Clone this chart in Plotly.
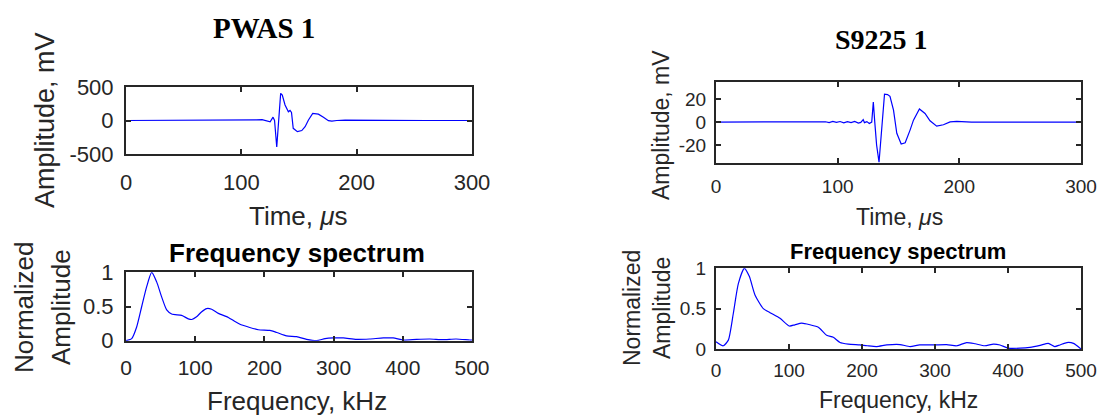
import plotly.graph_objects as go

W, H = 1102, 417

# ---------------- data ----------------
pwas_t = [0, 50, 100, 113, 118, 122, 125, 127.5, 128.8, 130.7, 132.5, 134.1, 135.5, 137.9,
          140.8, 142.2, 143.5, 145, 148.6, 152.4, 155.3, 158.2, 161.9, 166.8, 171.2, 175.5,
          178.5, 182.8, 190, 220, 260, 300]
pwas_a = [0, 0, 0, 10, 12, 0, -20, 50, 0, -395, 100, 405, 380, 231,
          131, 150, 120, -117, -167, -150, -92, 7, 107, 95, 48, -3,
          -10, 0, 5, 0, 0, 0]

s9225_t = [0, 60, 85, 90, 93, 96, 99, 102, 105, 108, 111, 114, 117, 119, 121, 122, 124, 126,
           128, 129.3, 130.5, 132, 134, 136, 138.5, 141, 143, 145.9, 148.6, 152.2, 155.5,
           159.5, 162.3, 167.2, 171.8, 175.9, 181.4, 186.9, 192.4, 197.9, 210, 250, 300]
s9225_a = [0, 0, 0, 0.3, -0.5, 0.6, -0.3, 0.5, -0.6, 0.4, -0.4, 0.6, -0.8, -0.3, 2.2, -0.5, 0.4, -1.2,
           0, 17.5, 0, -20, -35, -5, 24.3, 24, 22.5, 10.4, -9.8, -19.1, -18,
           -7, 1.7, 11.5, 7.5, 1.1, -3.5, -2.3, 0.2, 0.7, 0, 0, 0]

pwas_f = [0, 8.2, 15.4, 22.7, 29.9, 37.1, 44.3, 51.5, 58.8, 66, 80.4, 90, 95, 102, 109, 116.6,
          123.8, 133.4, 147.9, 157.5, 164.7, 176.8, 191.2, 208, 217.7, 232, 246.6, 261, 275.5,
          287.6, 299.6, 314, 333, 352, 372, 386, 400.7, 420, 439, 458, 477, 497, 500]
pwas_s = [0, 0.03, 0.20, 0.50, 0.79, 1.0, 0.86, 0.64, 0.45, 0.39, 0.37, 0.32, 0.31, 0.35, 0.42, 0.47,
          0.46, 0.40, 0.34, 0.28, 0.24, 0.20, 0.16, 0.15, 0.12, 0.07, 0.06, 0.02, 0.0,
          0.03, 0.04, 0.04, 0.02, 0.025, 0.04, 0.04, 0.01, 0.02, 0.025, 0.015, 0.025, 0.01, 0.01]

s9225_f = [0, 10, 16.9, 23.7, 30.6, 38.8, 45.6, 53.4, 64.8, 74, 87.7, 100.5, 108, 117.4, 128.8,
           140.2, 151.6, 160.7, 169.9, 181.3, 197, 207, 220, 234, 252, 265.8, 279, 298, 316,
           329.7, 343.4, 355, 368, 380, 389, 400.5, 416.5, 430, 444, 455.2, 464, 471, 480.6,
           489.7, 500]
s9225_s = [0.09, 0.04, 0.11, 0.44, 0.81, 1.0, 0.90, 0.67, 0.50, 0.45, 0.38, 0.285, 0.30, 0.32, 0.30,
           0.27, 0.17, 0.145, 0.08, 0.06, 0.05, 0.04, 0.03, 0.05, 0.055, 0.03, 0.05, 0.05, 0.055,
           0.04, 0.08, 0.065, 0.04, 0.06, 0.05, 0.01, 0.01, 0.02, 0.045, 0.07, 0.03, 0.05, 0.08,
           0.07, 0.0]

time_ticks = [0, 100, 200, 300]
freq_ticks = [0, 100, 200, 300, 400, 500]
pwas_yticks = [-500, 0, 500]
s9225_yticks = [-20, 0, 20]
spec_yticks = [0, 0.5, 1]
spec_ytext = ["0", "0.5", "1"]

# ---------------- layout helpers ----------------
def px(x):
    return x / W

def py(y):
    return 1 - y / H

AX = "#262626"
SANS = "Liberation Sans, Arial, sans-serif"
SERIF = "Liberation Serif, Times New Roman, serif"
BLUE = "#0000ff"

fig = go.Figure()

fig.add_trace(go.Scatter(x=pwas_t, y=pwas_a, mode="lines", line=dict(color=BLUE, width=1.2),
                         xaxis="x", yaxis="y", showlegend=False))
fig.add_trace(go.Scatter(x=pwas_f, y=pwas_s, mode="lines", line=dict(color=BLUE, width=1.2, shape="spline", smoothing=0.6),
                         xaxis="x2", yaxis="y2", showlegend=False))
fig.add_trace(go.Scatter(x=s9225_t, y=s9225_a, mode="lines", line=dict(color=BLUE, width=1.2),
                         xaxis="x3", yaxis="y3", showlegend=False))
fig.add_trace(go.Scatter(x=s9225_f, y=s9225_s, mode="lines", line=dict(color=BLUE, width=1.2, shape="spline", smoothing=0.6),
                         xaxis="x4", yaxis="y4", showlegend=False))

def xax(domain, rng, ticks, anchor, size, standoff):
    return dict(domain=domain, range=rng, tickvals=ticks, ticktext=[str(t) for t in ticks],
                anchor=anchor, showline=True, linecolor=AX, linewidth=2, mirror="ticks",
                ticks="inside", ticklen=5, tickwidth=1.5, tickcolor=AX, showgrid=False,
                zeroline=False, tickfont=dict(family=SANS, size=size, color=AX),
                ticklabelstandoff=standoff, automargin=False, fixedrange=True)

def yax(domain, rng, ticks, text, anchor, size, standoff):
    return dict(domain=domain, range=rng, tickvals=ticks, ticktext=text,
                anchor=anchor, showline=True, linecolor=AX, linewidth=2, mirror="ticks",
                ticks="inside", ticklen=5, tickwidth=1.5, tickcolor=AX, showgrid=False,
                zeroline=False, tickfont=dict(family=SANS, size=size, color=AX),
                ticklabelstandoff=standoff, automargin=False, fixedrange=True)

LX = [px(126), px(472)]
RX = [px(716), px(1081)]

fig.update_layout(
    width=W, height=H, margin=dict(l=0, r=0, t=0, b=0, pad=0, autoexpand=False),
    paper_bgcolor="white", plot_bgcolor="white", showlegend=False,
    xaxis=xax(LX, [0, 300], time_ticks, "y", 22, 8),
    yaxis=yax([py(154), py(87)], [-500, 500], pwas_yticks, ["-500", "0", "500"], "x", 22, 6),
    xaxis2=xax(LX, [0, 500], freq_ticks, "y2", 21, 7),
    yaxis2=yax([py(340.7), py(272.3)], [0, 1], spec_yticks, spec_ytext, "x2", 22, 6),
    xaxis3=xax(RX, [0, 300], time_ticks, "y3", 19, 5),
    yaxis3=yax([py(163), py(82)], [-35.7, 35], s9225_yticks, ["-20", "0", "20"], "x3", 19, 4),
    xaxis4=xax(RX, [0, 500], freq_ticks, "y4", 19, 3),
    yaxis4=yax([py(349), py(268.3)], [0, 1], spec_yticks, spec_ytext, "x4", 19, 4),
)

def ann(text, x, y, size, family=SANS, angle=0, bold=False):
    t = f"<b>{text}</b>" if bold else text
    fig.add_annotation(text=t, x=px(x), y=py(y), xref="paper", yref="paper",
                       xanchor="center", yanchor="middle", showarrow=False,
                       textangle=angle, font=dict(family=family, size=size, color="#000000" if bold else AX))

# titles
ann("PWAS 1", 264, 28, 29, SERIF, bold=True)
ann("S9225 1", 881, 40, 28, SERIF, bold=True)
ann("Frequency spectrum", 297, 253, 26, SANS, bold=True)
ann("Frequency spectrum", 898, 251, 22, SANS, bold=True)

# axis labels left
ann("Amplitude, mV", 45, 120, 27, angle=-90)
ann("Time, <i>μ</i>s", 299, 216, 26)
ann("Normalized", 24, 307, 26, angle=-90)
ann("Amplitude", 61, 307, 26, angle=-90)
ann("Frequency, kHz", 297, 401, 26)

# axis labels right
ann("Amplitude, mV", 661, 125, 23, angle=-90)
ann("Time, <i>μ</i>s", 899, 217, 23)
ann("Normalized", 632, 308, 23, angle=-90)
ann("Amplitude", 662, 308, 23, angle=-90)
ann("Frequency, kHz", 898, 400, 23)

fig.write_html(
    "out.html",
    config={"displayModeBar": False},
    post_script="document.body.style.margin='0';document.body.style.padding='0';"
                "document.documentElement.style.overflow='hidden';",
)
